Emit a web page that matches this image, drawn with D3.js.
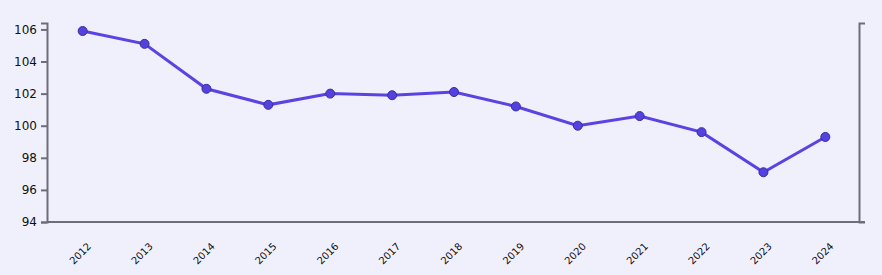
<!DOCTYPE html>
<html>
<head>
<meta charset="utf-8">
<script src="https://cdn.jsdelivr.net/npm/d3@7"></script>
<style>
  body { margin: 0; background: #f0f0fd; }
  svg { display: block; }
</style>
</head>
<body>
<div id="plot"></div>
<script>
// data
const years = ["2012", "2013", "2014", "2015", "2016", "2017", "2018", "2019", "2020", "2021", "2022", "2023", "2024"];
const values = [105.9, 105.1, 102.3, 101.3, 102.0, 101.9, 102.1, 101.2, 100.0, 100.6, 99.6, 97.1, 99.3];
const yTicks = [94, 96, 98, 100, 102, 104, 106];

const svgWidth = 882;
const svgHeight = 275;
const margin = { top: 23, right: 23, bottom: 53, left: 47 };
const right = svgWidth - margin.right;
const bottom = svgHeight - margin.bottom;

const svg = d3.select("#plot")
  .append("svg")
  .attr("width", svgWidth)
  .attr("height", svgHeight);

svg.append("rect")
  .attr("width", svgWidth)
  .attr("height", svgHeight)
  .style("fill", "#f0f0fd");

const xScale = d3.scalePoint().domain(years).range([margin.left + 1, right + 1]).padding(0.56);
const yScale = d3.scaleLinear().domain([94, 106.4]).range([bottom, margin.top]);

const axisColor = "#6e6c78";

// left axis
const yAxis = svg.append("g")
  .attr("transform", `translate(${margin.left},0)`)
  .call(d3.axisLeft(yScale).tickValues(yTicks).tickSize(6).tickPadding(4).tickFormat(d3.format("d")));
yAxis.selectAll("path, line").attr("stroke", axisColor).attr("stroke-width", 2);
yAxis.selectAll("text")
  .style("font-family", "DejaVu Sans, Verdana, sans-serif")
  .style("font-size", "12px")
  .attr("fill", "#111");

// right axis, no ticks
const yAxisR = svg.append("g")
  .attr("transform", `translate(${right},0)`)
  .call(d3.axisRight(yScale).tickValues([]).tickSizeOuter(6));
yAxisR.selectAll("path").attr("stroke", axisColor).attr("stroke-width", 2);

// bottom axis
const xAxis = svg.append("g")
  .attr("transform", `translate(0,${bottom})`)
  .call(d3.axisBottom(xScale).tickSize(0).tickSizeOuter(0).tickFormat(""));
xAxis.select("path").attr("stroke", axisColor).attr("stroke-width", 2)
  .attr("d", `M${margin.left},0H${right + 6}`);

svg.append("g")
  .selectAll("text")
  .data(years)
  .enter()
  .append("text")
  .attr("transform", d => `translate(${xScale(d) + 9},${bottom + 25}) rotate(-45)`)
  .style("text-anchor", "end")
  .style("font-family", "DejaVu Sans, Verdana, sans-serif")
  .style("font-size", "10px")
  .attr("fill", "#111")
  .text(d => d);

// line
const line = d3.line()
  .x((d, i) => xScale(years[i]))
  .y(d => yScale(d));

svg.append("path")
  .datum(values)
  .attr("d", line)
  .attr("fill", "none")
  .attr("stroke", "#5b42e3")
  .attr("stroke-width", 3);

svg.append("g")
  .selectAll("circle")
  .data(values)
  .enter()
  .append("circle")
  .attr("cx", (d, i) => xScale(years[i]))
  .attr("cy", d => yScale(d))
  .attr("r", 4.5)
  .attr("fill", "#5342e0")
  .attr("stroke", "#3b2d9e")
  .attr("stroke-width", 1);
</script>
</body>
</html>
